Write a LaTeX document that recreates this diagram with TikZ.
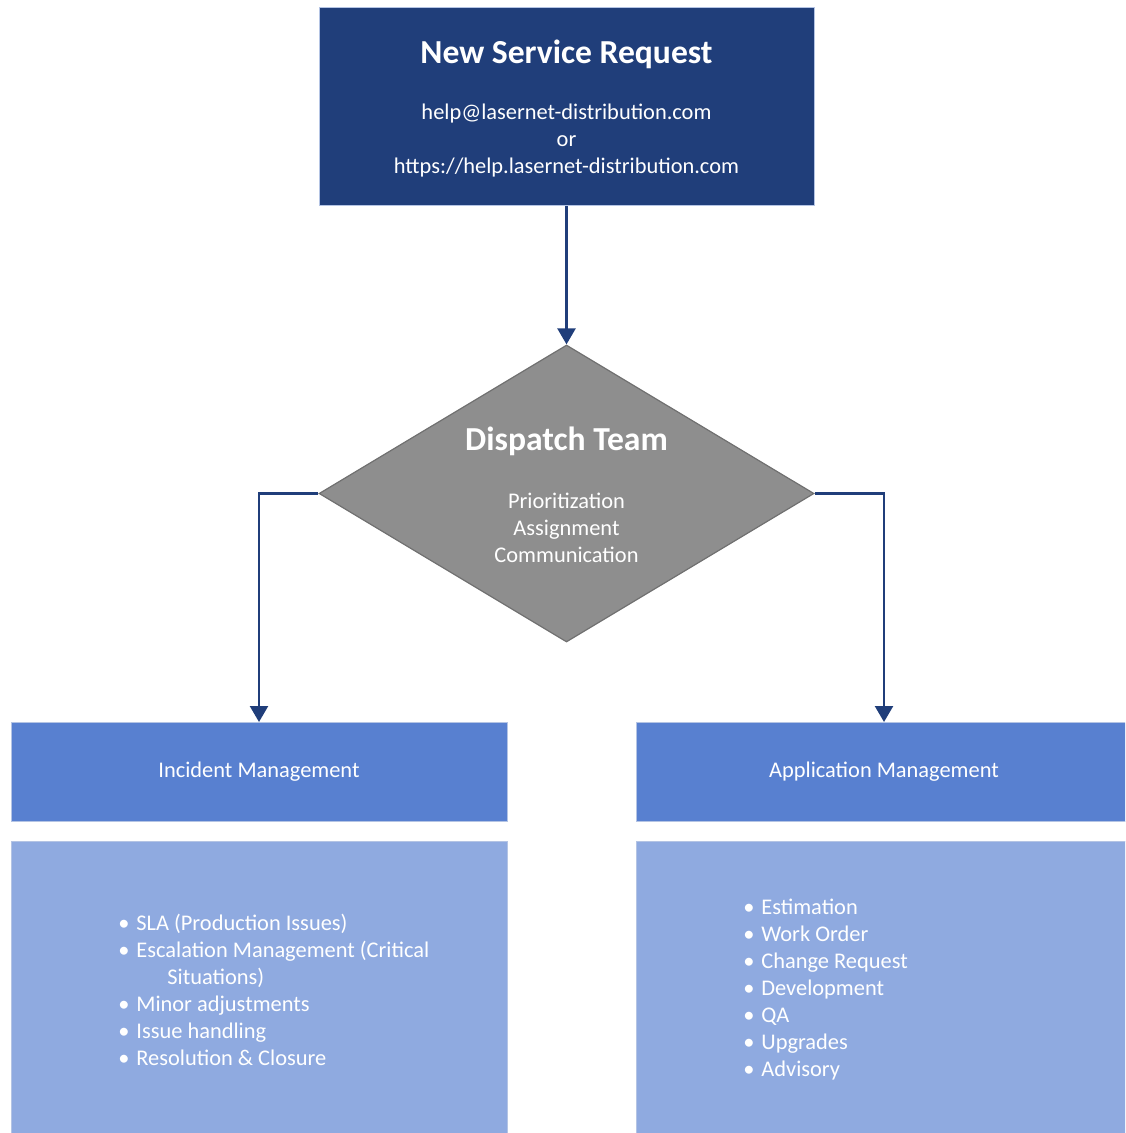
\documentclass[tikz,border=0pt]{standalone}
\usepackage{fontspec}
\setmainfont{Carlito}
\usepackage{tikz}
\usetikzlibrary{arrows.meta}
\usetikzlibrary{shapes.geometric}
\usetikzlibrary{positioning}

\definecolor{reqblue}{RGB}{32,62,122}
\definecolor{headblue}{RGB}{88,128,208}
\definecolor{listblue}{RGB}{143,170,224}
\definecolor{dispgray}{RGB}{142,142,142}
\definecolor{dispedge}{RGB}{112,112,112}
\definecolor{boxedge}{RGB}{180,196,228}

\newcommand{\bitem}[1]{\makebox[9pt][l]{\textbullet}#1}

\begin{document}
\begin{tikzpicture}[x=0.5pt,y=-0.5pt,
    reqbox/.style={rectangle,fill=reqblue,draw=boxedge,line width=0.5pt,
        minimum width=247.5pt,minimum height=99pt,inner sep=0pt},
    dispbox/.style={diamond,fill=dispgray,draw=dispedge,line width=0.6pt,
        minimum width=247.5pt,minimum height=148.5pt,inner sep=0pt},
    headbox/.style={rectangle,fill=headblue,draw=boxedge,line width=0.5pt,
        minimum width=248pt,minimum height=49.5pt,inner sep=0pt,
        text=white,font=\fontsize{11.2}{13.5}\selectfont},
    listbox/.style={rectangle,fill=listblue,draw=boxedge,line width=0.5pt,
        minimum width=248pt,minimum height=149pt,inner sep=0pt},
    titletext/.style={text=white,font=\fontsize{16.8}{19}\selectfont\bfseries,inner sep=0pt},
    bodytext/.style={text=white,font=\fontsize{11.2}{13.5}\selectfont,align=center,inner sep=0pt},
    listtext/.style={text=white,font=\fontsize{11.2}{13.5}\selectfont,align=left,inner sep=0pt,anchor=west},
    flowline/.style={draw=reqblue,line width=1.2pt,-{Triangle[length=8pt,width=9pt]}}]
    \useasboundingbox (0,0) rectangle (1125,1133);
    \clip (0,0) rectangle (1125,1133);

    % boxes
    \node[reqbox] (req) at (566.5,107) {};
    \node[dispbox] (disp) at (566.5,493.5) {};
    \node[headbox] (incident) at (259,772) {Incident Management};
    \node[headbox] (application) at (884,772) {Application Management};
    \node[listbox] (incidentlist) at (259,990) {};
    \node[listbox] (applicationlist) at (884,990) {};

    % texts
    \node[titletext] (reqtitle) at (566.5,54) {New Service Request};
    \node[bodytext] (reqmail) at (566.5,141) {help@lasernet-distribution.com\\or\\https://help.lasernet-distribution.com};
    \node[titletext] (disptitle) at (566.5,441) {Dispatch Team};
    \node[bodytext] (disptasks) at (566.5,528) {Prioritization\\Assignment\\Communication};
    \node[listtext] (incidentitems) at (118,990) {\bitem{SLA (Production Issues)}\\
        \bitem{Escalation Management (Critical}\\
        \hspace{24.5pt}Situations)\\
        \bitem{Minor adjustments}\\
        \bitem{Issue handling}\\
        \bitem{Resolution \& Closure}};
    \node[listtext] (applicationitems) at (743,990) {\bitem{Estimation}\\
        \bitem{Work Order}\\
        \bitem{Change Request}\\
        \bitem{Development}\\
        \bitem{QA}\\
        \bitem{Upgrades}\\
        \bitem{Advisory}};

    % connectors
    \draw[flowline] (req.south) -- (disp.north);
    \draw[flowline] (disp.west) -| (incident.north);
    \draw[flowline] (disp.east) -| (application.north);
\end{tikzpicture}
\end{document}
